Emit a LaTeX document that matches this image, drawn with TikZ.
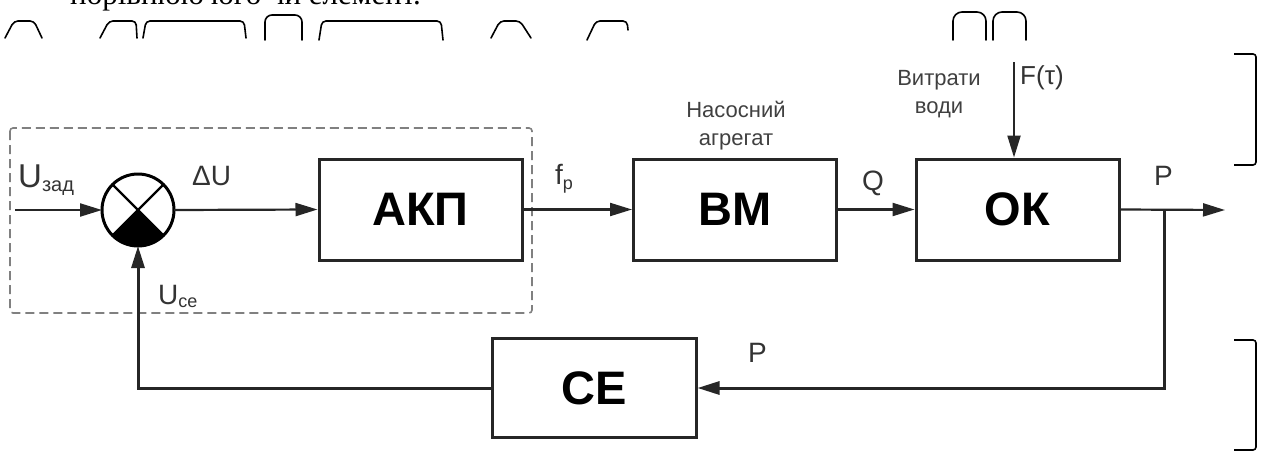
\documentclass[tikz,border=0pt]{standalone}
\usepackage{fontspec}
\setmainfont{Liberation Sans}
\newfontfamily\seriffont{Liberation Serif}
\usetikzlibrary{arrows.meta}
\begin{document}
\begin{tikzpicture}[x=1pt,y=-1pt,
  blk/.style={draw=black!85, line width=3pt, minimum width=203pt, minimum height=101pt, inner sep=0pt, font=\fontsize{47}{47}\selectfont\bfseries},
  conn/.style={line width=2.2pt, draw=black!85},
  arr/.style={conn, -{Triangle[length=22pt,width=13pt]}},
  lbl/.style={inner sep=0pt, anchor=base west, font=\fontsize{28}{28}\selectfont, text=black!80},
  small/.style={inner sep=0pt, anchor=base, font=\fontsize{22}{22}\selectfont, text=black!75},
  frag/.style={line width=1.6pt, line cap=round, rounded corners=4pt},
  grp/.style={draw=black!50, line width=1.6pt, dash pattern=on 9pt off 5pt, rounded corners=3pt},
]
\useasboundingbox (0,0) rectangle (1271,455);

% scanned fragments at the top
\begin{scope}
\clip (0,0) rectangle (1271,11);
\node[anchor=base west, inner sep=0pt, font=\seriffont\fontsize{31}{31}\selectfont] (fragtext) at (70,5) {порівнюючого чи елемент.};
\end{scope}
\draw[frag] (5,38) -- (14,21) -- (34,21) -- (42,38);
\draw[frag] (100,38) -- (109,21) -- (136,21) -- (137,38);
\draw[frag] (143,38) -- (146,21) -- (244,21) -- (246,38);
\draw[frag, rounded corners=7pt] (265,40) -- (265,15) -- (302,15) -- (302,40);
\draw[frag] (319,40) -- (322,21) -- (441,21) -- (443,40);
\draw[frag] (491,38) -- (500,21) -- (520,21) -- (531,38);
\draw[frag] (587,40) -- (596,21) -- (627,21) -- (628,30);
\draw[frag, rounded corners=9pt] (953,40) -- (953,12) -- (986,12) -- (986,40);
\draw[frag, rounded corners=9pt] (993,40) -- (993,12) -- (1026,12) -- (1026,40);

% right brackets
\draw[line width=1.6pt, rounded corners=3pt] (1234,54) -- (1256,54) -- (1256,165) -- (1234,165);
\draw[line width=1.6pt, rounded corners=3pt] (1234,340) -- (1256,340) -- (1256,450) -- (1234,450);

% dashed group
\draw[grp] (10,128) rectangle (532,313);

% blocks
\node[blk] (akp) at (420.5,209.5) {АКП};
\node[blk] (bm) at (735,209.5) {ВМ};
\node[blk] (ok) at (1017.5,209.5) {ОК};
\node[blk, minimum width=204pt, minimum height=99pt] (ce) at (594,388) {СЕ};

% summing junction
\node[circle, draw=black, line width=3pt, minimum size=72pt, inner sep=0pt, outer sep=0pt] (sum) at (138,210) {};
\fill (sum.center) -- (sum.-45) arc[start angle=-45, end angle=-135, radius=36pt] -- cycle;
\draw[line width=2.4pt] (sum.45) -- (sum.-135);
\draw[line width=2.4pt] (sum.135) -- (sum.-45);

% connectors
\coordinate (in) at (15,210);
\coordinate (out) at (1225,210);
\coordinate (br) at (1164,210);
\coordinate (fin) at (1014,62);
\draw[arr] (in) -- (sum.west);
\draw[arr] (sum.east) -- (akp.west);
\draw[arr] (akp.east) -- (bm.west);
\draw[arr] (bm.east) -- (ok.west);
\draw[arr] (ok.east) -- (out);
\draw[arr, line width=3pt] (br) |- (ce.east);
\draw[arr, line width=3pt] (ce.west) -| (sum.south);
\draw[arr] (fin) -- (fin |- ok.north);

% labels
\node[lbl, font=\fontsize{33}{33}\selectfont] (uzad) at (18,187) {U\raisebox{-4pt}{\fontsize{20}{20}\selectfont зад}};
\node[lbl] (du) at (192,185) {ΔU};
\node[lbl] (fp) at (555,184) {f\raisebox{-5pt}{\fontsize{18}{18}\selectfont p}};
\node[lbl] (q) at (862,190) {Q};
\node[lbl] (p1) at (1154,185) {P};
\node[lbl, font=\fontsize{26}{26}\selectfont] (ft) at (1020,84) {F(τ)};
\node[lbl] (use) at (158,304) {U\raisebox{-3pt}{\fontsize{18}{18}\selectfont се}};
\node[lbl] (p2) at (748,362) {P};
\node[small] (vyt1) at (939,85) {Витрати};
\node[small] (vyt2) at (939,113) {води};
\node[small] (nas1) at (736,117) {Насосний};
\node[small] (nas2) at (736,145) {агрегат};
\end{tikzpicture}
\end{document}
